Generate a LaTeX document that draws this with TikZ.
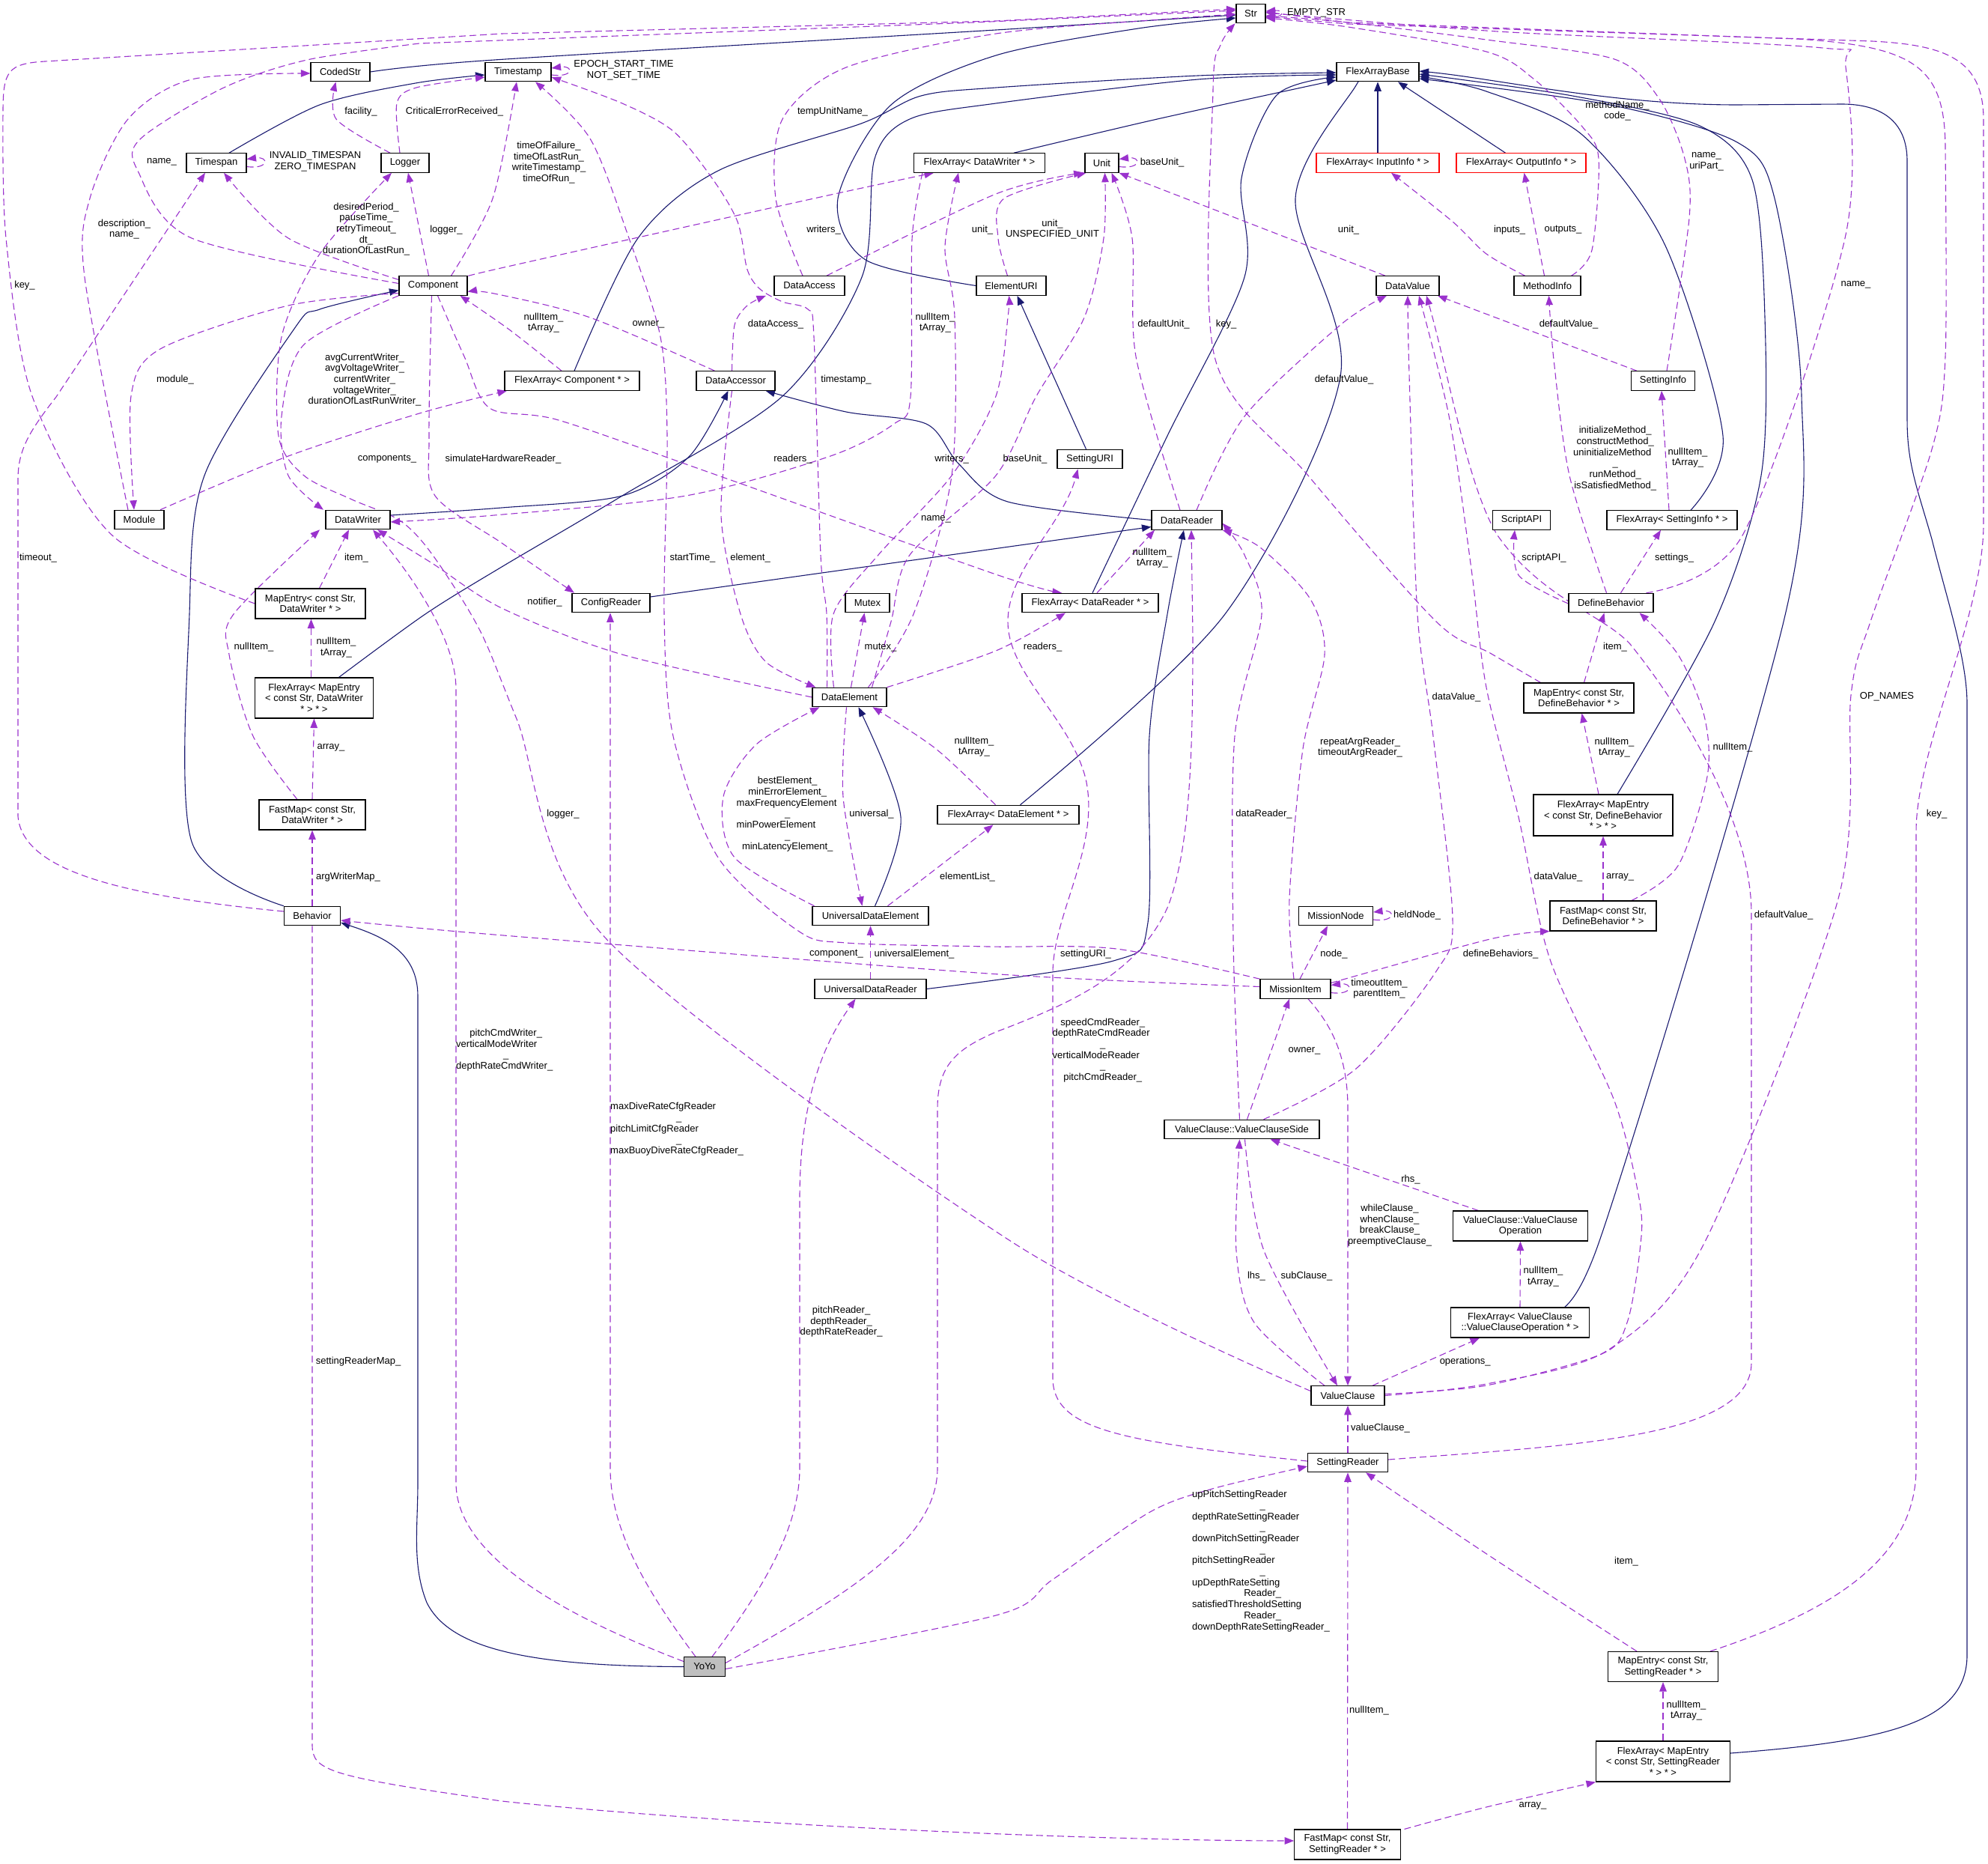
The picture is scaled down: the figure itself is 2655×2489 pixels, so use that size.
\documentclass[tikz,border=0pt]{standalone}
\usepackage{fontspec}
\newfontfamily\dxfont{Liberation Sans}
\usetikzlibrary{arrows.meta,backgrounds}
\definecolor{usagecol}{HTML}{9A32CD}
\definecolor{inhcol}{HTML}{191970}
\newcommand{\ctrrow}[2]{\makebox[#1][c]{#2}}

\begin{document}
\begin{tikzpicture}[
    x=1pt, y=-1pt,
    font=\dxfont\fontsize{13}{14.7}\selectfont,
    cls/.style={rectangle, draw=black, line width=1.1pt, fill=white, inner sep=0pt, minimum height=25.5pt, align=center},
    rcls/.style={cls, draw=red},
    lbl/.style={inner sep=0pt, align=center},
    usage/.style={draw=usagecol, line width=1.1pt, dash pattern=on 9pt off 5pt, -{Triangle[length=12.5pt,width=9.5pt]}},
    inherit/.style={draw=inhcol, line width=1.1pt, -{Triangle[length=12.5pt,width=9.5pt]}}
]
    \useasboundingbox (0,0) rectangle (2655,2489);

    % Classes
    \node[cls, minimum width=39pt] (str) at (1670.5,18) {Str};
    \node[cls, minimum width=79pt] (codedstr) at (454.5,96) {CodedStr};
    \node[cls, minimum width=88pt] (timestamp) at (692,96) {Timestamp};
    \node[cls, minimum width=110pt] (flexbase) at (1840,96) {FlexArrayBase};
    \node[cls, minimum width=80pt] (timespan) at (289,217.5) {Timespan};
    \node[cls, minimum width=64pt] (logger) at (541,217.5) {Logger};
    \node[cls, minimum width=175pt] (fadw) at (1308,217.5) {FlexArray< DataWriter * >};
    \node[cls, minimum width=45pt] (unit) at (1471.5,217.5) {Unit};
    \node[rcls, minimum width=164pt] (fain) at (1840,217.5) {FlexArray< InputInfo * >};
    \node[rcls, minimum width=173pt] (faout) at (2031.5,217.5) {FlexArray< OutputInfo * >};
    \node[cls, minimum width=91pt] (component) at (578.5,381.5) {Component};
    \node[cls, minimum width=94pt] (dataaccess) at (1081,381.5) {DataAccess};
    \node[cls, minimum width=93pt] (elementuri) at (1350.5,381.5) {ElementURI};
    \node[cls, minimum width=84pt] (datavalue) at (1880,381.5) {DataValue};
    \node[cls, minimum width=89pt] (methodinfo) at (2066.5,381.5) {MethodInfo};
    \node[cls, minimum width=180pt] (facomp) at (764,508.5) {FlexArray< Component * >};
    \node[cls, minimum width=105pt] (dataaccessor) at (982.5,508.5) {DataAccessor};
    \node[cls, minimum width=85pt] (settinginfo) at (2221,508.5) {SettingInfo};
    \node[cls, minimum width=87pt] (settinguri) at (1455.5,613) {SettingURI};
    \node[cls, minimum width=66pt] (module) at (186,694) {Module};
    \node[cls, minimum width=86pt] (datawriter) at (478,694) {DataWriter};
    \node[cls, minimum width=94pt] (datareader) at (1585,694.5) {DataReader};
    \node[cls, minimum width=77pt] (scriptapi) at (2032,694.5) {ScriptAPI};
    \node[cls, minimum width=174pt] (fasi) at (2233,694.5) {FlexArray< SettingInfo * >};
    \node[cls, minimum width=147pt, minimum height=40pt] (medw) at (414.5,806) {MapEntry< const Str,\\ DataWriter * >};
    \node[cls, minimum width=104pt] (configreader) at (816,805) {ConfigReader};
    \node[cls, minimum width=59pt] (mutex) at (1158.5,805) {Mutex};
    \node[cls, minimum width=182pt] (fadr) at (1456,805) {FlexArray< DataReader * >};
    \node[cls, minimum width=113pt] (definebeh) at (2151.5,805) {DefineBehavior};
    \node[cls, minimum width=99pt] (dataelement) at (1134.5,931) {DataElement};
    \node[cls, minimum width=158pt, minimum height=54pt] (famedw) at (419.5,932) {FlexArray< MapEntry\\< const Str, DataWriter\\ * > * >};
    \node[cls, minimum width=147pt, minimum height=40pt] (medb) at (2108.5,932) {MapEntry< const Str,\\ DefineBehavior * >};
    \node[cls, minimum width=189pt] (fade) at (1346.5,1088) {FlexArray< DataElement * >};
    \node[cls, minimum width=186pt, minimum height=55pt] (famedb) at (2141,1088.5) {FlexArray< MapEntry\\< const Str, DefineBehavior\\ * > * >};
    \node[cls, minimum width=142pt, minimum height=40pt] (fmdw) at (417,1088) {FastMap< const Str,\\ DataWriter * >};
    \node[cls, minimum width=155pt] (ude) at (1162.5,1223) {UniversalDataElement};
    \node[cls, minimum width=142pt, minimum height=40pt] (fmdb) at (2141,1223) {FastMap< const Str,\\ DefineBehavior * >};
    \node[cls, minimum width=99pt] (missionnode) at (1784,1223) {MissionNode};
    \node[cls, minimum width=75pt] (behavior) at (417,1223) {Behavior};
    \node[cls, minimum width=149pt] (udr) at (1162.5,1320.5) {UniversalDataReader};
    \node[cls, minimum width=94pt] (missionitem) at (1730,1320.5) {MissionItem};
    \node[cls, minimum width=207pt] (vcs) at (1658.5,1508) {ValueClause::ValueClauseSide};
    \node[cls, minimum width=180pt, minimum height=40pt] (vco) at (2030.5,1637) {ValueClause::ValueClause\\Operation};
    \node[cls, minimum width=185pt, minimum height=40pt] (favco) at (2030,1766) {FlexArray< ValueClause\\::ValueClauseOperation * >};
    \node[cls, minimum width=98pt] (valueclause) at (1800,1863.5) {ValueClause};
    \node[cls, minimum width=107pt] (settingreader) at (1800,1953) {SettingReader};
    \node[cls, minimum width=55pt, fill=black!25] (yoyo) at (941,2225.5) {YoYo};
    \node[cls, minimum width=147pt, minimum height=40pt] (mesr) at (2221,2225.5) {MapEntry< const Str,\\ SettingReader * >};
    \node[cls, minimum width=179pt, minimum height=54pt] (famesr) at (2221,2352) {FlexArray< MapEntry\\< const Str, SettingReader\\ * > * >};
    \node[cls, minimum width=141.5pt, minimum height=40pt] (fmsr) at (1799.5,2463) {FastMap< const Str,\\ SettingReader * >};

    \begin{scope}[on background layer]
    % Inheritance
    \draw[inherit] plot[smooth] coordinates {(codedstr.east) (660,80) (1330,40) ([yshift=-2pt]str.west)};
    \draw[inherit] plot[smooth] coordinates {([xshift=17pt]timespan.north) (427,140) (555,111) ([yshift=-4pt]timestamp.west)};
    \draw[inherit] plot[smooth] coordinates {(elementuri.west) (1156,347) (1119,265) (1190,140) (1330,74) (1520,38) ([yshift=-6pt]str.west)};
    \draw[inherit] plot[smooth] coordinates {([xshift=46pt]fadw.north) (1550,158) ([yshift=-11pt]flexbase.west)};
    \draw[inherit] plot[smooth] coordinates {([xshift=3pt]facomp.north) (852,318) (959,228) (1150,165) (1230,128) (1330,117) (1600,101) ([yshift=-1pt]flexbase.west)};
    \draw[inherit] plot[smooth] coordinates {([xshift=3pt]fadr.north) (1559,582) (1662,370) (1658,238) (1705,127) ([yshift=-7pt]flexbase.west)};
    \draw[inherit] plot[smooth] coordinates {([xshift=16pt]fade.north) (1636,820) (1790,503) (1730,265) (1811,114) ([xshift=-20pt]flexbase.south)};
    \draw[inherit] (fain.north) -- (flexbase.south);
    \draw[inherit] ([xshift=-21pt]faout.north) -- ([xshift=27pt]flexbase.south);
    \draw[inherit] plot[smooth] coordinates {([xshift=25pt]fasi.north) (2301,582) (2224,328) (2113,180) (1985,122) ([yshift=-6pt]flexbase.east)};
    \draw[inherit] plot[smooth] coordinates {([xshift=19pt]famedb.north) (2290,830) (2352,635) (2357,424) (2340,240) (2270,168) (2100,128) ([yshift=-3pt]flexbase.east)};
    \draw[inherit] plot[smooth] coordinates {([xshift=32pt]favco.north) (2135,1660) (2382,830) (2406,529) (2370,265) (2320,190) (2150,140) ([yshift=-9pt]flexbase.east)};
    \draw[inherit] ([yshift=11pt]famesr.east) .. controls (2520,2325) and (2627,2300) .. (2627,2210) -- (2627,940)
        .. controls (2627,880) and (2600,800) .. (2580,720) .. controls (2560,650) and (2547,620) .. (2547,560) -- (2547,215)
        .. controls (2547,160) and (2510,139) .. (2460,139) -- (2320,140) .. controls (2150,140) and (2000,105) .. ([yshift=1pt]flexbase.east);
    \draw[inherit] plot[smooth] coordinates {([xshift=33pt]famedw.north) (568,820) (670,757) (831,662) (1045,529) (1151,370) (1168,212) (1215,159) (1330,138) (1600,106) ([yshift=-4pt]flexbase.west)};
    \draw[inherit] plot[smooth] coordinates {([yshift=6pt]datawriter.east) (670,678) (831,662) (920,610) ([xshift=-10pt]dataaccessor.south)};
    \draw[inherit] plot[smooth] coordinates {(datareader.west) (1346,670) (1280,619) (1237,566) (1130,550) ([xshift=40pt]dataaccessor.south)};
    \draw[inherit] ([yshift=8pt]configreader.east) -- ([yshift=-9pt]datareader.west);
    \draw[inherit] plot[smooth] coordinates {(udr.east) (1487,1283) (1533,1232) (1535,983) (1559,820) ([xshift=-4pt]datareader.south)};
    \draw[inherit] plot[smooth] coordinates {([xshift=6pt]ude.north) (1203,1091) ([xshift=12pt]dataelement.south)};
    \draw[inherit] ([xshift=-5pt]settinguri.north) -- ([xshift=8pt]elementuri.south);
    \draw[inherit] plot[smooth] coordinates {(behavior.north west) (256,1124) (253,820) (273,635) (393,439) (427,413) ([yshift=-6pt]component.west)};
    \draw[inherit] (yoyo.west) .. controls (700,2225) and (600,2200) .. (570,2140) .. controls (550,2090) and (558,2040) .. (558,1980) -- (558,1330)
        .. controls (558,1270) and (510,1250) .. ([yshift=-9pt]behavior.east);

    % Self references
    \draw[usage] ([yshift=-5pt]str.east) .. controls +(26,2) and +(26,-2) .. ([yshift=3pt]str.east);
    \draw[usage] ([yshift=-4pt]timestamp.east) .. controls +(30,4) and +(30,-4) .. ([yshift=5pt]timestamp.east);
    \draw[usage] ([yshift=-5pt]timespan.east) .. controls +(30,4) and +(30,-4) .. ([yshift=5pt]timespan.east);
    \draw[usage] ([yshift=-5pt]unit.east) .. controls +(30,4) and +(30,-4) .. ([yshift=5pt]unit.east);
    \draw[usage] ([yshift=-5pt]missionnode.east) .. controls +(30,4) and +(30,-4) .. ([yshift=5pt]missionnode.east);
    \draw[usage] ([yshift=-5pt]missionitem.east) .. controls +(30,4) and +(30,-4) .. ([yshift=5pt]missionitem.east);

    % Component
    \draw[usage] plot[smooth] coordinates {([yshift=3pt]component.west) (256,318) (184,228) (188,185) (299,117) (410,80) (560,58)} -- (1300,30) -- ([yshift=4pt]str.west);
    \draw[usage] plot[smooth] coordinates {([yshift=8pt]component.west) (385,318) ([xshift=10pt]timespan.south)};
    \draw[usage] ([xshift=-6pt]component.north) -- ([xshift=4pt]logger.south);
    \draw[usage] plot[smooth] coordinates {([xshift=24pt]component.north) (658,265) ([xshift=-2pt]timestamp.south)};
    \draw[usage] plot[smooth] coordinates {([yshift=-10pt]component.west) (385,408) (214,466) (175,529) ([xshift=-7pt]module.north)};
    \draw[usage] plot[smooth] coordinates {(component.south west) (406,460) (376,556) (385,635) ([xshift=-46pt]datawriter.north)};
    \draw[usage] plot[smooth] coordinates {([xshift=-2pt]component.south) (573,582) (581,662) (670,725) ([xshift=-49pt]configreader.north)};
    \draw[usage] plot[smooth] coordinates {([xshift=6pt]component.south) (620,476) (654,545) (746,561) (959,635) (1330,767) ([xshift=-38pt]fadr.north)};
    \draw[usage] plot[smooth] coordinates {([yshift=11pt]component.east) (660,360) (1087,265) ([xshift=-61pt]fadw.south)};

    % Module, Logger, Behavior
    \draw[usage] plot[smooth] coordinates {([xshift=-15pt]module.north) (113,370) (120,265) (171,159) (256,106) ([yshift=-2pt]codedstr.west)};
    \draw[usage] plot[smooth] coordinates {([xshift=28pt]module.north) (385,609) (560,552) ([xshift=-87pt]facomp.south)};
    \draw[usage] plot[smooth] coordinates {([xshift=-20pt]logger.north) (449,159) ([xshift=-6pt]codedstr.south)};
    \draw[usage] plot[smooth] coordinates {([xshift=-7pt]logger.north) (530,138) (556,117) ([yshift=-7pt]timestamp.west)};
    \draw[usage] ([yshift=6pt]behavior.west) .. controls (150,1195) and (30,1160) .. (24,1090) -- (24,640) .. controls (24,600) and (40,575) .. (75,530) -- ([xshift=-15pt]timespan.south);
    \draw[usage] (behavior.north) -- (fmdw.south);
    \draw[usage] (behavior.south) -- (417,2330) .. controls (417,2365) and (440,2372) .. (670,2405) .. controls (1000,2440) and (1500,2458) .. ([yshift=5pt]fmsr.west);

    % DataWriter maps
    \draw[usage] (fmdw.north) -- (famedw.south);
    \draw[usage] ([xshift=-4pt]famedw.north) -- ([xshift=1pt]medw.south);
    \draw[usage] ([xshift=12pt]medw.north) -- ([xshift=-12pt]datawriter.south);
    \draw[usage] plot[smooth] coordinates {([xshift=-20pt]fmdw.north) (338,983) (306,874) (312,820) ([xshift=-51pt]datawriter.south)};
    \draw[usage] plot[smooth] coordinates {(medw.west) (150,715) (43,529) (8,318) (4,150)} .. controls (4,95) and (10,85) .. (60,82) -- (670,45) -- (1330,28) -- ([yshift=6pt]str.west);

    % Arrays of pointers
    \draw[usage] plot[smooth] coordinates {([xshift=-14pt]facomp.north) (680,440) ([xshift=36pt]component.south)};
    \draw[usage] plot[smooth] coordinates {([xshift=-76pt]fadw.south) (1218,320) (1216,530) (1194,566) (1109,609) (916,662) (660,688) ([yshift=-3pt]datawriter.east)};
    \draw[usage] ([xshift=9pt]fadr.north) -- ([xshift=-43pt]datareader.south);

    % DataAccess, DataAccessor
    \draw[usage] plot[smooth] coordinates {([xshift=-9pt]dataaccess.north) (1036,265) (1045,159) (1130,90) (1330,45) (1550,26) ([yshift=-1pt]str.west)};
    \draw[usage] plot[smooth] coordinates {([xshift=23pt]dataaccess.north) (1330,259) ([xshift=-25pt]unit.south)};
    \draw[usage] plot[smooth] coordinates {([xshift=-28pt]dataaccessor.north) (788,424) (660,392) ([yshift=-8pt]component.east)};
    \draw[usage] plot[smooth] coordinates {([xshift=-5pt]dataaccessor.north) (981,434) (998,408) ([xshift=-58pt]dataaccess.south)};
    \draw[usage] plot[smooth] coordinates {([xshift=-5pt]dataaccessor.south) (963,688) (989,820) (1023,884) ([xshift=-45pt]dataelement.north)};

    % DataElement
    \draw[usage] plot[smooth] coordinates {([xshift=-30pt]dataelement.north) (1104,820) (1096,741) (1087,450) (1079,413) (1045,403) (1015,386) (998,360) (985,296) (951,238) (899,175) (831,138) ([yshift=-7pt]timestamp.east)};
    \draw[usage] plot[smooth] coordinates {([xshift=-21pt]dataelement.north) (1113,820) (1173,741) (1271,635) (1330,529) (1346,424) ([xshift=-3pt]elementuri.south)};
    \draw[usage] ([xshift=2pt]dataelement.north) -- ([xshift=-4pt]mutex.south);
    \draw[usage] plot[smooth] coordinates {([xshift=25pt]dataelement.north) (1220,820) (1271,635) (1275,424) (1262,330) ([xshift=-28pt]fadw.south)};
    \draw[usage] plot[smooth] coordinates {([xshift=30pt]dataelement.north) (1190,830) (1215,741) (1330,635) (1384,529) (1448,424) (1474,318) ([xshift=4pt]unit.south)};
    \draw[usage] plot[smooth] coordinates {(dataelement.north east) (1330,869) ([xshift=-33pt]fadr.south)};
    \draw[usage] plot[smooth] coordinates {(dataelement.west) (831,874) (670,812) (577,752) ([xshift=26pt]datawriter.south)};
    \draw[usage] plot[smooth] coordinates {([xshift=-4pt]dataelement.south) (1126,1064) ([xshift=-11pt]ude.north)};

    % UniversalDataElement, UniversalDataReader
    \draw[usage] plot[smooth] coordinates {([xshift=-75pt]ude.north) (981,1145) (966,1064) (1010,994) ([xshift=-40pt]dataelement.south)};
    \draw[usage] ([xshift=23pt]ude.north) -- ([xshift=-20pt]fade.south);
    \draw[usage] plot[smooth] coordinates {([xshift=-17pt]fade.north) (1250,1000) ([xshift=31pt]dataelement.south)};
    \draw[usage] (udr.north) -- (ude.south);

    % ElementURI, DataReader, DataValue
    \draw[usage] plot[smooth] coordinates {([xshift=-5pt]elementuri.north) (1333,318) (1341,265) ([xshift=-21pt]unit.south)};
    \draw[usage] plot[smooth] coordinates {([xshift=-9pt]datareader.north) (1517,476) (1512,318) ([xshift=13pt]unit.south)};
    \draw[usage] plot[smooth] coordinates {([xshift=13pt]datareader.north) (1662,556) (1790,434) ([xshift=-28pt]datavalue.south)};
    \draw[usage] ([xshift=-30pt]datavalue.north) -- (unit.south east);
    \draw[usage] plot[smooth] coordinates {([xshift=-51pt]medb.north) (1990,872) (1918,830) (1747,635) (1622,476) (1620,120) (1630,60) ([xshift=-21pt]str.south)};

    % SettingInfo, MethodInfo, DefineBehavior
    \draw[usage] ([xshift=-35pt]settinginfo.north) -- ([xshift=40pt]datavalue.south);
    \draw[usage] plot[smooth] coordinates {([xshift=5pt]settinginfo.north) (2256,291) (2250,212) (2216,132) (2156,79) (1985,53) (1800,30) ([yshift=-3pt]str.east)};
    \draw[usage] plot[smooth] coordinates {([xshift=32pt]methodinfo.north) (2126,334) (2135,212) (2113,169) (2049,106) (1985,69) (1800,36) ([yshift=-6pt]str.east)};
    \draw[usage] plot[smooth] coordinates {([xshift=-30pt]methodinfo.north) (1985,339) (1940,296) ([xshift=18pt]fain.south)};
    \draw[usage] ([xshift=-4pt]methodinfo.north) -- ([xshift=4pt]faout.south);
    \draw[usage] plot[smooth] coordinates {([xshift=-6pt]definebeh.north) (2096,635) (2075,480) ([xshift=2pt]methodinfo.south)};
    \draw[usage] plot[smooth] coordinates {([yshift=-1pt]definebeh.west) (2028,768) ([xshift=-9pt]scriptapi.south)};
    \draw[usage] ([xshift=13pt]definebeh.north) -- ([xshift=-15pt]fasi.south);
    \draw[usage] ([xshift=-4pt]fasi.north) -- ([xshift=-2pt]settinginfo.south);
    \draw[usage] plot[smooth] coordinates {([xshift=47pt]definebeh.north) (2327,715) (2464,318) (2465,90) (2434,64) (2000,42) ([yshift=1pt]str.east)};
    \draw[usage] ([xshift=7pt]medb.north) -- ([xshift=-9pt]definebeh.south);
    \draw[usage] ([xshift=-6pt]famedb.north) -- ([xshift=4pt]medb.south);
    \draw[usage] (fmdb.north) -- (famedb.south);
    \draw[usage] plot[smooth] coordinates {([xshift=38pt]fmdb.north) (2241,1156) (2280,1037) (2276,956) (2241,874) ([xshift=38pt]definebeh.south)};

    % MissionItem
    \draw[usage] plot[smooth] coordinates {([yshift=8pt]missionitem.east) (1990,1254) (fmdb.south west)};
    \draw[usage] ([xshift=6pt]missionitem.north) -- ([xshift=-11pt]missionnode.south);
    \draw[usage] plot[smooth] coordinates {([xshift=-2pt]missionitem.north) (1722,1200) (1740,1000) (1769,874) (1750,800) (1683,731) (datareader.south east)};
    \draw[usage] plot[smooth] coordinates {([yshift=3pt]missionitem.west) (1320,1300) (660,1248) ([yshift=-6pt]behavior.east)};
    \draw[usage] plot[smooth] coordinates {(missionitem.north west) (1491,1267) (1320,1264) (1130,1259) (1066,1243) (959,1145) (899,983) (887,820) (891,582) (882,450) (840,318) (788,185) ([xshift=23pt]timestamp.south)};
    \draw[usage] ([xshift=17pt]missionitem.south) .. controls (1770,1360) and (1800,1400) .. (1800,1480) -- (valueclause.north);

    % ValueClause
    \draw[usage] ([xshift=7pt]vcs.north) -- ([xshift=-8pt]missionitem.south);
    \draw[usage] plot[smooth] coordinates {([xshift=-3pt]vcs.north) (1647,1254) (1649,983) (1685,820) (1662,741) ([yshift=-4pt]datareader.east)};
    \draw[usage] plot[smooth] coordinates {([xshift=29pt]vcs.north) (1811,1427) (1918,1297) (1940,1227) (1914,983) (1893,820) (1882,500) (datavalue.south)};
    \draw[usage] ([xshift=-56pt]vco.north) -- ([xshift=38pt]vcs.south);
    \draw[usage] plot[smooth] coordinates {([xshift=-31pt]valueclause.north) (1675,1766) (1651,1670) ([xshift=-3pt]vcs.south)};
    \draw[usage] plot[smooth] coordinates {([xshift=4pt]vcs.south) (1688,1670) ([xshift=-14pt]valueclause.north)};
    \draw[usage] ([xshift=33pt]valueclause.north) -- ([xshift=-54pt]favco.south);
    \draw[usage] (favco.north) -- (vco.south);
    \draw[usage] plot[smooth] coordinates {([yshift=2pt]valueclause.east) (1985,1850) (2139,1808) (2173,1766) (2190,1670) (2190,1606) (2156,1470) (2070,1281) (2028,1091) (1985,918) (1965,760) (1936,560) ([xshift=15pt]datavalue.south)};
    \draw[usage] plot[smooth] coordinates {(valueclause.east) (1985,1848) (2147,1803) (2276,1660) (2455,1200) (2472,928) (2498,830) (2580,600) (2598,476) (2598,200)} .. controls (2598,90) and (2560,62) .. (2400,52) -- (1800,30) -- ([yshift=2pt]str.east);
    \draw[usage] plot[smooth] coordinates {([yshift=6pt]valueclause.west) (1354,1660) (810,1254) (690,960) (640,840) (577,740) (534,695) (470,667) (406,635) (372,582) (376,450) (427,339) ([xshift=-18pt]logger.south)};

    % SettingReader
    \draw[usage] (settingreader.north) -- (valueclause.south);
    \draw[usage] ([yshift=4pt]settingreader.east) .. controls (2100,1930) and (2339,1920) .. (2339,1820) -- (2339,1220)
        .. controls (2339,1100) and (2250,950) .. (2177,860) .. controls (2140,820) and (2060,800) .. (2000,715) .. controls (1960,650) and (1935,500) .. ([xshift=25pt]datavalue.south);
    \draw[usage] ([yshift=2pt]settingreader.west) .. controls (1500,1925) and (1406,1910) .. (1406,1840) -- (1406,1300)
        .. controls (1406,1220) and (1470,1130) .. (1450,1040) .. controls (1430,960) and (1346,900) .. (1346,830) .. controls (1346,760) and (1420,700) .. ([xshift=-16pt]settinguri.south);
    \draw[usage] plot[smooth] coordinates {([xshift=-35pt]mesr.north) (1990,2078) ([xshift=24pt]settingreader.south)};
    \draw[usage] (famesr.north) -- (mesr.south);
    \draw[usage] plot[smooth] coordinates {([xshift=76pt]fmsr.north) (1985,2413) (famesr.south west)};
    \draw[usage] (fmsr.north) -- (settingreader.south);
    \draw[usage] ([xshift=63pt]mesr.north) .. controls (2450,2150) and (2559,2080) .. (2559,1960) -- (2559,1110) .. controls (2559,1000) and (2649,820) .. (2649,700) -- (2649,160)
        .. controls (2649,80) and (2600,60) .. (2500,55) -- (1800,32) -- ([yshift=-4pt]str.east);

    % YoYo
    \draw[usage] ([yshift=7pt]yoyo.west) .. controls (760,2160) and (609,2080) .. (609,1980) -- (609,920) .. controls (609,860) and (560,780) .. ([xshift=20pt]datawriter.south);
    \draw[usage] ([xshift=-12pt]yoyo.north) .. controls (860,2120) and (815,2040) .. (815,1960) -- ([xshift=-1pt]configreader.south);
    \draw[usage] ([xshift=10pt]yoyo.north) .. controls (1020,2120) and (1068,2040) .. (1068,1960) -- (1068,1600) .. controls (1068,1450) and (1110,1380) .. ([xshift=-20pt]udr.south);
    \draw[usage] ([yshift=5pt]yoyo.east) .. controls (1150,2120) and (1252,2050) .. (1252,1960) -- (1252,1480) .. controls (1252,1420) and (1280,1400) .. (1330,1378)
        .. controls (1430,1340) and (1520,1300) .. (1560,1210) .. controls (1590,1130) and (1593,1000) .. (1593,850) -- ([xshift=6pt]datareader.south);
    \draw[usage] plot[smooth] coordinates {([yshift=-3pt]yoyo.east) (1330,2157) (1406,2109) (1534,2020) (1619,1988) ([yshift=-5pt]settingreader.west)};
    \end{scope}

    % Edge labels
    \node[lbl] (lemptystr) at (1758,17.5) {EMPTY\_STR};
    \node[lbl] (lepoch) at (833,94) {EPOCH\_START\_TIME\\NOT\_SET\_TIME};
    \node[lbl] (linvalid) at (421,216) {INVALID\_TIMESPAN\\ZERO\_TIMESPAN};
    \node[lbl] (lcompname) at (216,216.5) {name\_};
    \node[lbl] (lfacility) at (482,149) {facility\_};
    \node[lbl] (lcritical) at (607,149) {CriticalErrorReceived\_};
    \node[lbl] (ldescr) at (166,306) {description\_\\name\_};
    \node[lbl] (ldesired) at (489,306) {desiredPeriod\_\\pauseTime\_\\retryTimeout\_\\dt\_\\durationOfLastRun\_};
    \node[lbl] (lcomplogger) at (596,307) {logger\_};
    \node[lbl] (lmedwkey) at (33,381) {key\_};
    \node[lbl] (lmodule) at (234,507) {module\_};
    \node[lbl] (lavg) at (487,507) {avgCurrentWriter\_\\avgVoltageWriter\_\\currentWriter\_\\voltageWriter\_\\durationOfLastRunWriter\_};
    \node[lbl] (lcomponents) at (517,613) {components\_};
    \node[lbl] (lsimulate) at (672,613) {simulateHardwareReader\_};
    \node[lbl] (ltimeout) at (51,745) {timeout\_};
    \node[lbl] (lmedwitem) at (476,745) {item\_};
    \node[lbl] (ltempunit) at (1112,149) {tempUnitName\_};
    \node[lbl] (ltimeof) at (733,217) {timeOfFailure\_\\timeOfLastRun\_\\writeTimestamp\_\\timeOfRun\_};
    \node[lbl] (lcompwriters) at (1100,307) {writers\_};
    \node[lbl] (ldaunit) at (1312,307) {unit\_};
    \node[lbl] (lntcomp) at (726,431) {nullItem\_\\tArray\_};
    \node[lbl] (lowner) at (866,433) {owner\_};
    \node[lbl] (ldataaccess) at (1036,433) {dataAccess\_};
    \node[lbl] (lntdw) at (1249,431) {nullItem\_\\tArray\_};
    \node[lbl] (ltimestamp) at (1130,507) {timestamp\_};
    \node[lbl] (lcompreaders) at (1059,613) {readers\_};
    \node[lbl] (ldewriters) at (1271,613) {writers\_};
    \node[lbl] (ldename) at (1250,693) {name\_};
    \node[lbl] (lstarttime) at (925,745) {startTime\_};
    \node[lbl] (lelement) at (1002,745) {element\_};
    \node[lbl] (lnotifier) at (727.5,804.5) {notifier\_};
    \node[lbl] (lbaseunitself) at (1552,217) {baseUnit\_};
    \node[lbl] (lunspec) at (1405.5,306) {unit\_\\UNSPECIFIED\_UNIT};
    \node[lbl] (ldvunit) at (1801,307) {unit\_};
    \node[lbl] (ldefunit) at (1554,433) {defaultUnit\_};
    \node[lbl] (lmedbkey) at (1637.5,433) {key\_};
    \node[lbl] (ldrdefval) at (1795,507) {defaultValue\_};
    \node[lbl] (ldebaseunit) at (1369,613) {baseUnit\_};
    \node[lbl] (lntdr) at (1539,745) {nullItem\_\\tArray\_};
    \node[lbl] (lmethodname) at (2160,148) {methodName\_\\code\_};
    \node[lbl] (luripart) at (2279,216) {name\_\\uriPart\_};
    \node[lbl] (linputs) at (2016,307) {inputs\_};
    \node[lbl] (loutputs) at (2087.5,307) {outputs\_};
    \node[lbl] (ldbname) at (2478.5,380) {name\_};
    \node[lbl] (lsidefval) at (2095,433) {defaultValue\_};
    \node[lbl, anchor=west, align=left] (linitmethod) at (2101,612) {\ctrrow{112pt}{initializeMethod\_}\\\ctrrow{112pt}{constructMethod\_}\\uninitializeMethod\\\ctrrow{112pt}{\_}\\\ctrrow{112pt}{runMethod\_}\\\ctrrow{112pt}{isSatisfiedMethod\_}};
    \node[lbl] (lntsi) at (2254,611) {nullItem\_\\tArray\_};
    \node[lbl] (lscriptapi) at (2062,745) {scriptAPI\_};
    \node[lbl] (lsettings) at (2236,745) {settings\_};
    \node[lbl] (lfmdwnull) at (339,864.5) {nullItem\_};
    \node[lbl] (lntmedw) at (449,864.5) {nullItem\_\\tArray\_};
    \node[lbl] (ldwarray) at (442,998) {array\_};
    \node[lbl] (largwriter) at (465,1171) {argWriterMap\_};
    \node[lbl, anchor=west, align=left] (lpitchcmdw) at (609,1402) {\ctrrow{133pt}{pitchCmdWriter\_}\\verticalModeWriter\\\ctrrow{133pt}{\_}\\depthRateCmdWriter\_};
    \node[lbl] (lmutex) at (1176,864.5) {mutex\_};
    \node[lbl] (lntde) at (1301,997) {nullItem\_\\tArray\_};
    \node[lbl, anchor=west, align=left] (lbestelem) at (983.5,1087.5) {\ctrrow{136pt}{bestElement\_}\\\ctrrow{136pt}{minErrorElement\_}\\maxFrequencyElement\\\ctrrow{136pt}{\_}\\minPowerElement\\\ctrrow{136pt}{\_}\\\ctrrow{136pt}{minLatencyElement\_}};
    \node[lbl] (lvclogger) at (752,1087) {logger\_};
    \node[lbl] (luniversal) at (1164,1087) {universal\_};
    \node[lbl] (lelemlist) at (1292,1171) {elementList\_};
    \node[lbl] (lcomponent) at (1117,1274) {component\_};
    \node[lbl] (luniel) at (1221,1274) {universalElement\_};
    \node[lbl, anchor=west, align=left] (lmaxdive) at (815,1508) {maxDiveRateCfgReader\\\ctrrow{183pt}{\_}\\pitchLimitCfgReader\\\ctrrow{183pt}{\_}\\maxBuoyDiveRateCfgReader\_};
    \node[lbl] (lfadrreaders) at (1392.6,864.5) {readers\_};
    \node[lbl] (lvcsdv) at (1945,930.6) {dataValue\_};
    \node[lbl] (lrepeat) at (1816.5,998) {repeatArgReader\_\\timeoutArgReader\_};
    \node[lbl] (ldatareader) at (1688,1087) {dataReader\_};
    \node[lbl] (lheld) at (1892.6,1222) {heldNode\_};
    \node[lbl] (lsettinguri) at (1450,1274) {settingURI\_};
    \node[lbl] (lnode) at (1781.5,1274) {node\_};
    \node[lbl] (ldefbeh) at (2004,1274) {defineBehaviors\_};
    \node[lbl] (ltimeoutitem) at (1842,1320) {timeoutItem\_\\parentItem\_};
    \node[lbl, anchor=west, align=left] (lspeedcmd) at (1405.5,1402.5) {\ctrrow{134pt}{speedCmdReader\_}\\depthRateCmdReader\\\ctrrow{134pt}{\_}\\verticalModeReader\\\ctrrow{134pt}{\_}\\\ctrrow{134pt}{pitchCmdReader\_}};
    \node[lbl] (lvcsowner) at (1742,1403) {owner\_};
    \node[lbl] (lrhs) at (1884,1575) {rhs\_};
    \node[lbl] (lwhile) at (1856,1636) {whileClause\_\\whenClause\_\\breakClause\_\\preemptiveClause\_};
    \node[lbl] (lmedbitem) at (2157,864.5) {item\_};
    \node[lbl] (lopnames) at (2520,930.6) {OP\_NAMES};
    \node[lbl] (lntmedb) at (2156,998) {nullItem\_\\tArray\_};
    \node[lbl] (lfmdbnull) at (2314,998) {nullItem\_};
    \node[lbl] (lmesrkey) at (2586.6,1087) {key\_};
    \node[lbl] (lvcdv) at (2081,1171) {dataValue\_};
    \node[lbl] (ldbarray) at (2163.6,1171) {array\_};
    \node[lbl] (lsrdefval) at (2382,1222) {defaultValue\_};
    \node[lbl] (lsrmap) at (478.6,1818.6) {settingReaderMap\_};
    \node[lbl] (lpitchreader) at (1123.6,1764.7) {pitchReader\_\\depthReader\_\\depthRateReader\_};
    \node[lbl] (llhs) at (1678,1704) {lhs\_};
    \node[lbl] (lsubclause) at (1745,1704) {subClause\_};
    \node[lbl] (loperations) at (1956.7,1818.6) {operations\_};
    \node[lbl] (lvalueclause) at (1843.4,1907.4) {valueClause\_};
    \node[lbl, anchor=west, align=left] (luppitch) at (1592,2084.5) {upPitchSettingReader\\\ctrrow{188pt}{\_}\\depthRateSettingReader\\\ctrrow{188pt}{\_}\\downPitchSettingReader\\\ctrrow{188pt}{\_}\\pitchSettingReader\\\ctrrow{188pt}{\_}\\upDepthRateSetting\\\ctrrow{188pt}{Reader\_}\\satisfiedThresholdSetting\\\ctrrow{188pt}{Reader\_}\\downDepthRateSettingReader\_};
    \node[lbl] (lfmsrnull) at (1828.5,2284) {nullItem\_};
    \node[lbl] (lntvco) at (2061,1704.4) {nullItem\_\\tArray\_};
    \node[lbl] (lmesritem) at (2172,2084.6) {item\_};
    \node[lbl] (lntmesr) at (2252,2284) {nullItem\_\\tArray\_};
    \node[lbl] (lsrarray) at (2047,2411) {array\_};
\end{tikzpicture}
\end{document}
